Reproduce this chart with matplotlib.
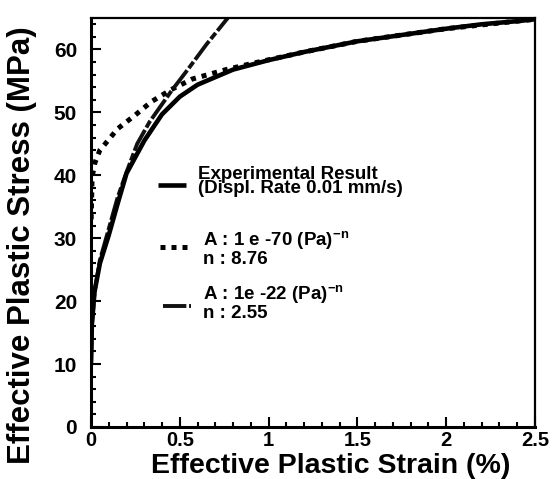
import matplotlib
matplotlib.use("Agg")
import matplotlib.pyplot as plt
from matplotlib.lines import Line2D
from matplotlib.ticker import MultipleLocator

plt.rcParams['font.family'] = ['Liberation Sans', 'DejaVu Sans']
plt.rcParams['font.weight'] = 'bold'
plt.rcParams['mathtext.fontset'] = 'custom'
plt.rcParams['mathtext.rm'] = 'Liberation Sans:bold'
plt.rcParams['mathtext.it'] = 'Liberation Sans:bold'
plt.rcParams['mathtext.bf'] = 'Liberation Sans:bold'

# Experimental result
exp_strain = [0, 0.005, 0.02, 0.05, 0.1, 0.15, 0.2, 0.3, 0.4, 0.5, 0.6, 0.8,
              1.0, 1.2, 1.5, 1.8, 2.0, 2.2, 2.4, 2.5]
exp_stress = [10, 16.5, 21.5, 26, 30.5, 35.5, 40.3, 45.5, 49.7, 52.5, 54.4, 56.8,
              58.3, 59.6, 61.3, 62.5, 63.3, 64.0, 64.5, 64.8]

# Model A = 1e-70, n = 8.76
m1_strain = [0.001, 0.006, 0.022, 0.05, 0.08, 0.15, 0.25, 0.34, 0.45, 0.57,
             0.76, 0.91, 1.2, 1.5, 2.0, 2.5]
m1_stress = [33, 39.7, 42, 44, 45, 47.4, 49.6, 51.7, 53.6, 55.3,
             56.8, 57.8, 59.6, 61.3, 63.3, 64.8]

# Model A = 1e-22, n = 2.55
m2_strain = [0, 0.005, 0.02, 0.05, 0.1, 0.15, 0.2, 0.26, 0.33, 0.4, 0.45,
             0.55, 0.65, 0.77]
m2_stress = [10, 16, 21.5, 26.5, 31.5, 36.5, 40.5, 45, 48.5, 51.3, 53.3,
             57, 60.8, 65]

legend_labels = ["Experimental Result\n(Displ. Rate 0.01 mm/s)",
                 "A : 1 e -70 (Pa)$^{-n}$\nn : 8.76",
                 "A : 1e -22 (Pa)$^{-n}$\nn : 2.55"]

styles = [dict(color='black', lw=3.3, linestyle='-', solid_capstyle='butt'),
          dict(color='black', lw=3.6, linestyle=(0, (1, 1.2)), dash_capstyle='butt'),
          dict(color='#111111', lw=2.8, linestyle=(0, (6, 0.7, 2, 0.7)),
               dash_capstyle='butt')]

W, H = 554, 479
fig = plt.figure(figsize=(W / 100, H / 100), dpi=100)
ax = fig.add_axes([91/W, 1-427/H, 444/W, 409/H])

ax.plot(exp_strain, exp_stress, zorder=3, **styles[0])
ax.plot(m1_strain, m1_stress, zorder=2, **styles[1])
ax.plot(m2_strain, m2_stress, zorder=2, **styles[2])

ax.set_xlim(0, 2.5)
ax.set_ylim(0, 65)
ax.xaxis.set_minor_locator(MultipleLocator(0.1))
ax.yaxis.set_major_locator(MultipleLocator(10))
ax.yaxis.set_minor_locator(MultipleLocator(2))
ax.set_xticks([0, 0.5, 1, 1.5, 2, 2.5])
ax.set_xticklabels(['0', '0.5', '1', '1.5', '2', '2.5'])

ax.tick_params(which='both', direction='in', top=False, right=False, width=1.5)
ax.tick_params(which='major', length=7)
ax.tick_params(which='minor', length=3.5)
ax.tick_params(axis='y', which='major', labelsize=15, pad=10)
ax.tick_params(axis='x', which='major', labelsize=14.5, pad=3)
for lab in ax.get_xticklabels() + ax.get_yticklabels():
    lab.set_fontweight('bold')

for s in ['left', 'bottom']:
    ax.spines[s].set_linewidth(2.2)
for s in ['top', 'right']:
    ax.spines[s].set_linewidth(1.6)

ax.set_xlabel("Effective Plastic Strain (%)", fontsize=20.5, fontweight='bold')
ax.set_ylabel("Effective Plastic Stress (MPa)", fontsize=22.5, fontweight='bold')
ax.xaxis.set_label_coords((331 - 91) / 444, (427 - 473) / 409)
ax.yaxis.set_label_coords((22 - 91) / 444, 1 - (245 - 18) / 409)
ax.xaxis.label.set_va('baseline')
ax.yaxis.label.set_va('center')

# legend drawn at fixed figure-pixel positions
def fx(px):
    return px / W

def fy(py):
    return 1 - py / H

handle_x = [(158, 186), (160, 188), (163, 191)]
handle_y = [185, 247, 306]
text_x = [198, 203, 203]
last_baseline = [193, 264, 318]
line_spacing = [0.74, 1.0, 1.0]
for st, (hx0, hx1), hy, tx, bl, ls, lab in zip(styles, handle_x, handle_y, text_x,
                                               last_baseline, line_spacing,
                                               legend_labels):
    seg = Line2D([fx(hx0), fx(hx1)], [fy(hy), fy(hy)], transform=fig.transFigure, **st)
    fig.add_artist(seg)
    fig.text(fx(tx), fy(bl), lab, fontsize=13.5, fontweight='bold',
             ha='left', va='baseline', linespacing=ls)

fig.savefig("out.png", dpi=100)
